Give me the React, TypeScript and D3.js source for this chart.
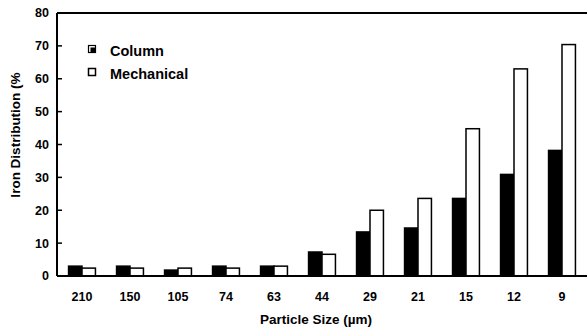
import * as d3 from 'd3';
import * as React from 'react';

// particle size categories (µm), coarse to fine
const sizes = ['210', '150', '105', '74', '63', '44', '29', '21', '15', '12', '9'];
const column = [3, 3, 1.8, 3, 3, 7.3, 13.4, 14.6, 23.6, 30.9, 38.2];
const mechanical = [2.4, 2.4, 2.4, 2.4, 3, 6.6, 20, 23.6, 44.8, 63, 70.4];
const seriesNames = ['Column', 'Mechanical'];
const yTicks = [0, 10, 20, 30, 40, 50, 60, 70, 80];

const width = 587;
const height = 331;
const plot = {left: 57, top: 13, right: 587, bottom: 276};
const font = '"Liberation Sans", Arial, sans-serif';

export default function App() {
    const x = d3.scaleBand<string>()
        .domain(sizes)
        .range([plot.left + 1, plot.right - 1])
        .paddingInner(0.44)
        .paddingOuter(0.22);

    const sub = d3.scaleBand<string>()
        .domain(seriesNames)
        .range([0, x.bandwidth()]);

    const y = d3.scaleLinear()
        .domain([0, 80])
        .range([plot.bottom, plot.top]);

    const series = [column, mechanical];

    return (
        <div style={{position: 'fixed', left: 0, top: 0}}>
            <svg width={width} height={height} style={{display: 'block', background: 'white'}}>
                {/* bars */}
                {sizes.map((s, i) => (
                    <g key={s} transform={`translate(${x(s)},0)`}>
                        {series.map((vals, k) => (
                            <rect
                                key={k}
                                x={sub(seriesNames[k])}
                                y={y(vals[i])}
                                width={sub.bandwidth()}
                                height={y(0) - y(vals[i])}
                                fill={k === 0 ? 'black' : 'white'}
                                stroke='black'
                                strokeWidth={1.5}
                            />
                        ))}
                    </g>
                ))}

                {/* frame */}
                <line stroke='black' strokeWidth={2} x1={plot.left} x2={plot.right} y1={plot.top} y2={plot.top} />
                <line stroke='black' strokeWidth={2} x1={plot.left} x2={plot.right} y1={plot.bottom} y2={plot.bottom} />
                <line stroke='black' strokeWidth={2} x1={plot.left} x2={plot.left} y1={plot.top} y2={plot.bottom} />

                {/* y axis */}
                {yTicks.map((t) => (
                    <g key={t} transform={`translate(0,${y(t)})`}>
                        {t > 0 && t < 80 && <line stroke='black' strokeWidth={1.5} x1={plot.left} x2={plot.left + 5} y1={0} y2={0} />}
                        <text x={49} dy='0.35em' textAnchor='end' fontFamily={font} fontWeight='bold' fontSize={12.5}>{t}</text>
                    </g>
                ))}
                <text
                    transform='translate(20,135) rotate(-90)'
                    textAnchor='middle'
                    fontFamily={font}
                    fontWeight='bold'
                    fontSize={13.5}
                >Iron Distribution (%</text>

                {/* x axis */}
                {sizes.map((s) => (
                    <text key={s} x={(x(s) || 0) + x.bandwidth() / 2} y={301} textAnchor='middle' fontFamily={font} fontWeight='bold' fontSize={12.5}>{s}</text>
                ))}
                <text x={316} y={324} textAnchor='middle' fontFamily={font} fontWeight='bold' fontSize={13.5}>Particle Size (µm)</text>

                {/* legend */}
                <g transform='translate(88,45)'>
                    <rect x={0.5} y={0.5} width={7} height={7} fill='white' stroke='black' strokeWidth={1.2} />
                    <rect x={2.5} y={2.5} width={5.5} height={5.5} fill='black' />
                    <text x={22} y={11} fontFamily={font} fontWeight='bold' fontSize={14.5}>Column</text>
                </g>
                <g transform='translate(88,68)'>
                    <rect x={0.5} y={0.5} width={7} height={7} fill='white' stroke='black' strokeWidth={1.5} />
                    <text x={22} y={11} fontFamily={font} fontWeight='bold' fontSize={14.5}>Mechanical</text>
                </g>
            </svg>
        </div>
    );
}
